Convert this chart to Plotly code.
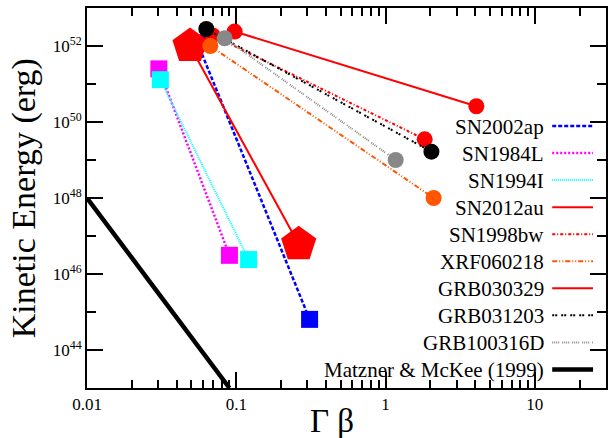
import plotly.graph_objects as go

# ---------------- data ----------------
names = ["SN2002ap", "SN1984L", "SN1994I", "SN2012au", "SN1998bw",
         "XRF060218", "GRB030329", "GRB031203", "GRB100316D"]
x_start = [0.055, 0.0303, 0.031, 0.049, 0.0695, 0.067, 0.0975, 0.063, 0.0836]
y_start = [1.2e52, 2.5e51, 1.3e51, 1.0e52, 1.9e52, 1.0e52, 2.4e52, 2.8e52, 1.6e52]
x_end = [0.31, 0.090, 0.121, 0.262, 1.83, 2.1, 4.06, 2.03, 1.17]
y_end = [6.4e44, 3.1e46, 2.4e46, 6.1e46, 3.5e49, 1.0e48, 2.6e50, 1.66e49, 1.0e49]

mm_name = "Matzner & McKee (1999)"
mm_x = [0.01, 0.09]
mm_y = [1e48, 1e43]

x_tickvals = [0.01, 0.1, 1, 10]
x_ticktext = ["0.01", "0.1", "1", "10"]
y_exponents = [44, 46, 48, 50, 52]

# ---------------- styles ----------------
colors = ["#0000FF", "#FF00FF", "#00FFFF", "#FF0000", "#FF0000",
          "#FF5500", "#FF0000", "#000000", "#888888"]
dashes = ["4px,2px", "2px,2px", "1px,1px", "solid", "3px,2px,1px,2px",
          "5px,2px,1px,2px,1px,2px", "solid", "2px,1px,2px,4px",
          "1px,1px,1px,1px,1px,1px,1px,3px"]
widths = [2.5, 2.5, 2, 2, 2, 2, 2, 2, 2]
symbols = ["square", "square", "square", "pentagon", "circle",
           "circle", "circle", "circle", "circle"]
msizes = [17, 17, 17, 37, 16, 16, 16, 16, 16]

SERIF = "Liberation Serif, Times New Roman, serif"

fig = go.Figure()
for i, n in enumerate(names):
    fig.add_trace(go.Scatter(
        x=[x_start[i], x_end[i]], y=[y_start[i], y_end[i]],
        mode="lines+markers", name=n, showlegend=False,
        line=dict(color=colors[i], dash=dashes[i], width=widths[i]),
        marker=dict(symbol=symbols[i], size=msizes[i], color=colors[i],
                    line=dict(width=0)),
    ))
fig.add_trace(go.Scatter(x=mm_x, y=mm_y, mode="lines", name=mm_name,
                         showlegend=False,
                         line=dict(color="black", width=4.5)))

# ---------------- layout ----------------
W, H = 608, 438
ML, MR, MT, MB = 87, 0, 8, 50
PW, PH = W - ML - MR, H - MT - MB


def px_x(p):
    return (p - ML) / PW


def px_y(p):
    return (MT + PH - p) / PH


# legend built from shapes + annotations (text left of the line sample)
leg_names = names + [mm_name]
leg_colors = colors + ["black"]
leg_dashes = dashes + ["solid"]
leg_widths = widths + [4.5]
shapes = []
annotations = []
for k, n in enumerate(leg_names):
    yp = 126 + k * 27.05
    shapes.append(dict(type="line", xref="paper", yref="paper",
                       x0=px_x(554), x1=px_x(595), y0=px_y(yp), y1=px_y(yp),
                       line=dict(color=leg_colors[k], dash=leg_dashes[k],
                                 width=leg_widths[k])))
    annotations.append(dict(text=n, xref="paper", yref="paper",
                            x=px_x(548), y=px_y(yp + 1), xanchor="right",
                            yanchor="middle", showarrow=False,
                            font=dict(family=SERIF, size=21, color="black")))

annotations.append(dict(text="Kinetic Energy (erg)", textangle=-90,
                        xref="paper", yref="paper", x=px_x(24), y=px_y(198),
                        xanchor="center", yanchor="middle", showarrow=False,
                        font=dict(family=SERIF, size=34, color="black")))
annotations.append(dict(text="Γ β", xref="paper", yref="paper",
                        x=px_x(333), y=px_y(421), xanchor="center",
                        yanchor="middle", showarrow=False,
                        font=dict(family=SERIF, size=33, color="black")))

x_minor = [m * 10 ** e for e in (-2, -1, 0) for m in range(2, 10)] + [20, 30]

fig.update_layout(
    width=W, height=H,
    margin=dict(l=ML, r=MR, t=MT, b=MB, pad=0),
    paper_bgcolor="white", plot_bgcolor="white",
    showlegend=False,
    shapes=shapes, annotations=annotations,
    xaxis=dict(type="log", range=[-2, 1.4771], showgrid=False, zeroline=False,
               showline=True, linecolor="black", linewidth=2, mirror="ticks",
               ticks="inside", ticklen=16, tickwidth=1.5, tickcolor="black",
               tickvals=x_tickvals, ticktext=x_ticktext,
               tickfont=dict(family=SERIF, size=17, color="black"),
               minor=dict(ticks="inside", ticklen=8, tickwidth=1.5,
                          tickcolor="black", tickvals=x_minor, showgrid=False)),
    yaxis=dict(type="log", range=[43, 53], showgrid=False, zeroline=False,
               showline=True, linecolor="black", linewidth=2, mirror="ticks",
               ticks="inside", ticklen=16, tickwidth=1.5, tickcolor="black",
               tickvals=[10.0 ** e for e in y_exponents],
               ticktext=["10<sup>%d</sup>" % e for e in y_exponents],
               tickfont=dict(family=SERIF, size=17, color="black"),
               minor=dict(ticks="inside", ticklen=9, tickwidth=1.5,
                          tickcolor="black",
                          tickvals=[10.0 ** e for e in range(43, 54, 2)],
                          showgrid=False)),
)

fig.write_html("out.html",
               config={"displayModeBar": False},
               post_script="document.body.style.margin='0px';"
                           "document.body.style.padding='0px';")
